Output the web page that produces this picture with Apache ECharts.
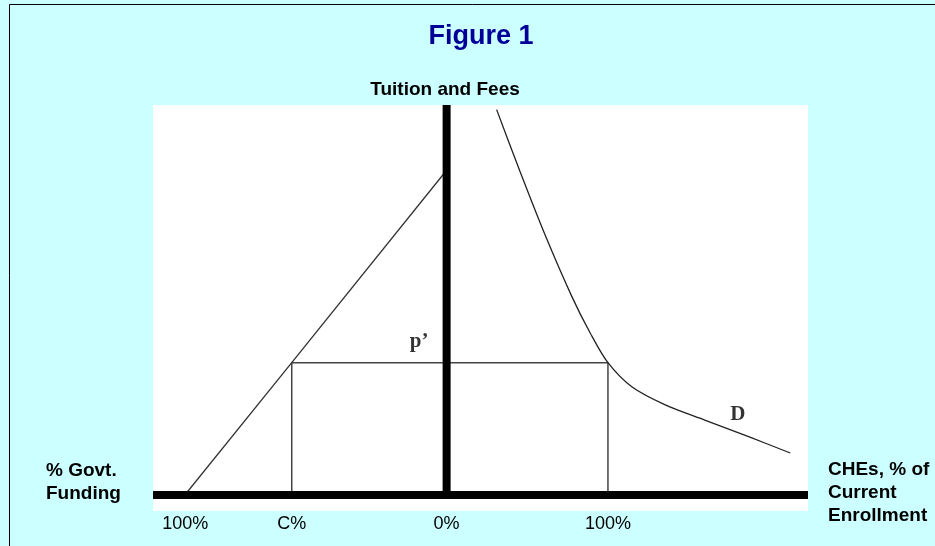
<!DOCTYPE html>
<html>
<head>
<meta charset="UTF-8">
<title>Figure 1</title>
<script src="https://cdn.jsdelivr.net/npm/echarts@6.0.0/dist/echarts.min.js"></script>
<style>
body {
	margin: 0;
	padding: 0;
	background: #CCFFFF;
}

#main {
	width: 935px;
	height: 546px;
}
</style>
</head>
<body>
	<div id="main"></div>
	<script>
		// x: enrollment % (0 at the tuition axis), y: tuition index (p' = 100)
		var xTickValues = [ -162, -96, 0, 100 ];
		var xTickLabels = [ '100%', 'C%', '0%', '100%' ];

		// supply / funding line, left side
		var supplyX = [ -162, -96, 0 ];
		var supplyY = [ 0, 100, 246 ];

		// demand curve D
		var demandX = [ 31, 45.5, 61, 77.5, 89, 100, 115, 135.5, 160, 188, 213 ];
		var demandY = [ 292, 245, 197, 150.5, 122.5, 100, 81.5, 68, 56.5, 43.5, 31.5 ];

		// price p' box
		var priceLevel = 100;
		var boxLeft = -96;
		var boxRight = 100;

		// tuition axis (drawn as a thick line)
		var tuitionAxisX = [ 0, 0 ];
		var tuitionAxisY = [ 0, 295.5 ];

		// annotation labels
		var noteText = [ 'p\u2019', 'D' ];
		var noteX = [ -17, 180.5 ];
		var noteY = [ 115.7, 61 ];

		function pairs(xs, ys) {
			var out = [];
			for (var i = 0; i < xs.length; i++) {
				out.push([ xs[i], ys[i] ]);
			}
			return out;
		}

		var thin = {
			color : '#444',
			width : 1.5
		};

		var option = {
			animation : false,
			backgroundColor : '#CCFFFF',
			textStyle : {
				fontFamily : 'Liberation Sans, Arial, sans-serif'
			},
			grid : {
				left : 153,
				top : 105,
				right : 127,
				bottom : 35,
				show : true,
				backgroundColor : '#FFFFFF',
				borderWidth : 0
			},
			xAxis : {
				type : 'value',
				min : -182,
				max : 224,
				z : 10,
				axisLine : {
					show : true,
					onZero : true,
					lineStyle : {
						color : '#000',
						width : 8,
						cap : 'butt'
					}
				},
				axisTick : {
					show : false
				},
				splitLine : {
					show : false
				},
				axisLabel : {
					customValues : xTickValues,
					margin : 4,
					color : '#000',
					fontSize : 18,
					fontFamily : 'Liberation Sans, Arial, sans-serif',
					formatter : function(v) {
						var i = xTickValues.indexOf(v);
						return i >= 0 ? xTickLabels[i] : '';
					}
				}
			},
			yAxis : {
				type : 'value',
				min : -12.5,
				max : 295.5,
				axisLine : {
					show : false
				},
				axisTick : {
					show : false
				},
				axisLabel : {
					show : false
				},
				splitLine : {
					show : false
				}
			},
			graphic : [ {
				type : 'rect',
				silent : true,
				shape : {
					x : 9.5,
					y : 4.5,
					width : 1200,
					height : 1200
				},
				style : {
					fill : 'none',
					stroke : '#000',
					lineWidth : 1
				}
			}, {
				type : 'text',
				x : 481,
				y : 37,
				style : {
					text : 'Figure 1',
					fill : '#000099',
					font : 'bold 27px "Liberation Sans", Arial, sans-serif',
					textAlign : 'center',
					textVerticalAlign : 'middle'
				}
			}, {
				type : 'text',
				x : 445,
				y : 90,
				style : {
					text : 'Tuition and Fees',
					fill : '#000',
					font : 'bold 19px "Liberation Sans", Arial, sans-serif',
					textAlign : 'center',
					textVerticalAlign : 'middle'
				}
			}, {
				type : 'text',
				x : 46,
				y : 459,
				style : {
					text : '% Govt.\nFunding',
					fill : '#000',
					font : 'bold 19px "Liberation Sans", Arial, sans-serif',
					lineHeight : 23,
					textAlign : 'left',
					textVerticalAlign : 'top'
				}
			}, {
				type : 'text',
				x : 828,
				y : 458,
				style : {
					text : 'CHEs, % of\nCurrent\nEnrollment',
					fill : '#000',
					font : 'bold 19px "Liberation Sans", Arial, sans-serif',
					lineHeight : 23,
					textAlign : 'left',
					textVerticalAlign : 'top'
				}
			} ],
			series : [ {
				name : 'box',
				type : 'line',
				symbol : 'none',
				lineStyle : thin,
				data : [ [ boxLeft, 0 ], [ boxLeft, priceLevel ], [ boxRight, priceLevel ], [ boxRight, 0 ] ]
			}, {
				name : 'supply',
				type : 'line',
				symbol : 'none',
				lineStyle : {
					color : '#333',
					width : 1.3
				},
				data : pairs(supplyX, supplyY)
			}, {
				name : 'demand',
				type : 'line',
				symbol : 'none',
				smooth : 0.3,
				lineStyle : {
					color : '#222',
					width : 1.3
				},
				data : pairs(demandX, demandY)
			}, {
				name : 'tuition axis',
				type : 'line',
				symbol : 'none',
				z : 5,
				lineStyle : {
					color : '#000',
					width : 8,
					cap : 'butt'
				},
				data : pairs(tuitionAxisX, tuitionAxisY)
			}, {
				name : 'notes',
				type : 'scatter',
				symbolSize : 0,
				label : {
					show : true,
					position : 'inside',
					color : '#000',
					fontSize : 21,
					fontWeight : 'bold',
					fontFamily : 'Liberation Serif, Times New Roman, serif',
					formatter : function(p) {
						return noteText[p.dataIndex];
					}
				},
				data : pairs(noteX, noteY)
			} ]
		};

		var mychart = echarts.init(document.getElementById('main'));
		mychart.setOption(option);
	</script>
</body>
</html>
